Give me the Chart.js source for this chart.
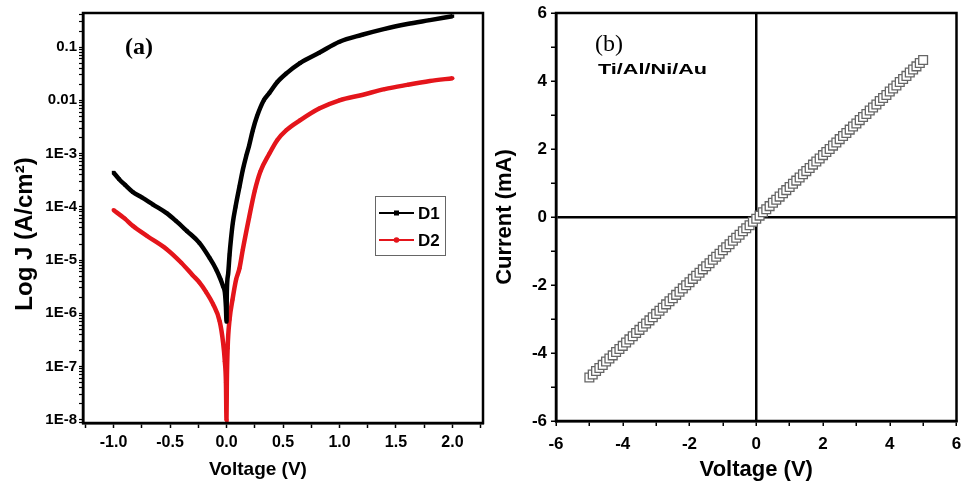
<!DOCTYPE html>
<html>
<head>
<meta charset="utf-8">
<script src="https://cdn.jsdelivr.net/npm/chart.js@4.4.1/dist/chart.umd.min.js"></script>
<style>
  html, body { margin: 0; padding: 0; background: #fff; }
  #wrap { position: relative; width: 964px; height: 489px; }
  canvas { position: absolute; left: 0; top: 0; }
</style>
</head>
<body>
<div id="wrap">
  <canvas id="chartA" width="964" height="489"></canvas>
  <canvas id="chartB" width="964" height="489"></canvas>
</div>
<script>
// panel (a): log J vs voltage
const voltageD1 = [-1.0, -0.95, -0.9, -0.83, -0.75, -0.65, -0.53, -0.45, -0.35, -0.24, -0.15, -0.09, -0.05, -0.03, -0.015, -0.005,
  0.0, 0.003, 0.015, 0.027, 0.04, 0.056, 0.08, 0.115, 0.145, 0.174, 0.2, 0.233, 0.27, 0.33, 0.38, 0.45, 0.53, 0.65, 0.82,
  1.0, 1.2, 1.4, 1.6, 1.8, 2.0];
const currentD1 = [4.4e-4, 3.3e-4, 2.6e-4, 1.9e-4, 1.5e-4, 1.1e-4, 7.6e-5, 5.5e-5, 3.5e-5, 2.1e-5, 1.1e-5, 6.6e-6, 4.2e-6, 3.2e-6, 2.5e-6, 1.3e-6,
  7e-7, 2.5e-6, 5.6e-6, 1.26e-5, 2.5e-5, 5e-5, 1e-4, 2.4e-4, 5e-4, 8.9e-4, 1.4e-3, 2.75e-3, 5e-3, 1e-2, 1.38e-2, 2.2e-2, 3.2e-2, 5e-2, 7.8e-2,
  0.126, 0.17, 0.22, 0.27, 0.32, 0.38];

const voltageD2 = [-1.0, -0.9, -0.83, -0.7, -0.53, -0.4, -0.3, -0.24, -0.18, -0.12, -0.06, -0.03, -0.015, -0.005,
  0.0, 0.003, 0.01, 0.027, 0.053, 0.085, 0.115, 0.145, 0.2, 0.25, 0.3, 0.38, 0.45, 0.53, 0.65, 0.82,
  1.0, 1.2, 1.4, 1.6, 1.8, 2.0];
const currentD2 = [8.7e-5, 6e-5, 4.4e-5, 2.8e-5, 1.6e-5, 8.9e-6, 5.2e-6, 3.8e-6, 2.5e-6, 1.5e-6, 7e-7, 2.8e-7, 1.26e-7, 5e-8,
  1e-8, 5e-8, 2.2e-7, 7.6e-7, 1.8e-6, 4.3e-6, 7e-6, 1.6e-5, 6.3e-5, 2e-4, 4.6e-4, 1e-3, 1.8e-3, 2.75e-3, 4.2e-3, 7e-3,
  0.01, 0.0126, 0.0162, 0.0195, 0.023, 0.026];

const xTickValuesA = [-1.0, -0.5, 0.0, 0.5, 1.0, 1.5, 2.0];
const xTickLabelsA = ['-1.0', '-0.5', '0.0', '0.5', '1.0', '1.5', '2.0'];
const yTickPowersA = [-8, -7, -6, -5, -4, -3, -2, -1];
const yTickLabelsA = ['1E-8', '1E-7', '1E-6', '1E-5', '1E-4', '1E-3', '0.01', '0.1'];

// panel (b): Ti/Al/Ni/Au contact I-V
const voltageB = [-5.0, -4.9, -4.8, -4.7, -4.6, -4.5, -4.4, -4.3, -4.2, -4.1, -4.0, -3.9, -3.8, -3.7, -3.6, -3.5, -3.4, -3.3, -3.2, -3.1,
  -3.0, -2.9, -2.8, -2.7, -2.6, -2.5, -2.4, -2.3, -2.2, -2.1, -2.0, -1.9, -1.8, -1.7, -1.6, -1.5, -1.4, -1.3, -1.2, -1.1,
  -1.0, -0.9, -0.8, -0.7, -0.6, -0.5, -0.4, -0.3, -0.2, -0.1, 0.0, 0.1, 0.2, 0.3, 0.4, 0.5, 0.6, 0.7, 0.8, 0.9,
  1.0, 1.1, 1.2, 1.3, 1.4, 1.5, 1.6, 1.7, 1.8, 1.9, 2.0, 2.1, 2.2, 2.3, 2.4, 2.5, 2.6, 2.7, 2.8, 2.9,
  3.0, 3.1, 3.2, 3.3, 3.4, 3.5, 3.6, 3.7, 3.8, 3.9, 4.0, 4.1, 4.2, 4.3, 4.4, 4.5, 4.6, 4.7, 4.8, 4.9, 5.0];
const currentB = [-4.72, -4.63, -4.53, -4.44, -4.35, -4.25, -4.16, -4.07, -3.97, -3.88, -3.79, -3.69, -3.60, -3.51, -3.41, -3.32, -3.23, -3.13, -3.04, -2.95,
  -2.85, -2.76, -2.67, -2.57, -2.48, -2.39, -2.29, -2.20, -2.10, -2.01, -1.92, -1.82, -1.73, -1.64, -1.54, -1.45, -1.36, -1.26, -1.17, -1.08,
  -0.98, -0.89, -0.80, -0.70, -0.61, -0.52, -0.42, -0.33, -0.24, -0.14, -0.05, 0.04, 0.14, 0.23, 0.32, 0.42, 0.51, 0.60, 0.70, 0.79,
  0.88, 0.98, 1.07, 1.16, 1.26, 1.35, 1.44, 1.54, 1.63, 1.72, 1.82, 1.91, 2.00, 2.10, 2.19, 2.29, 2.38, 2.47, 2.57, 2.66,
  2.75, 2.85, 2.94, 3.03, 3.13, 3.22, 3.31, 3.41, 3.50, 3.59, 3.69, 3.78, 3.87, 3.97, 4.06, 4.15, 4.25, 4.34, 4.43, 4.53, 4.62];

const xTickLabelsB = ['-6', '-4', '-2', '0', '2', '4', '6'];
const yTickLabelsB = ['-6', '-4', '-2', '0', '2', '4', '6'];

const SANS = '"Liberation Sans", Arial, sans-serif';
const SERIF = '"Liberation Serif", "Times New Roman", serif';
Chart.defaults.font.family = SANS;
Chart.defaults.color = '#000';

const toPoints = (xs, ys) => xs.map((x, i) => ({ x: x, y: ys[i] }));

// frame round the plot area
const framePlugin = {
  id: 'frame',
  afterDatasetsDraw(chart) {
    const { ctx, chartArea: a } = chart;
    ctx.save();
    ctx.strokeStyle = '#000';
    ctx.lineWidth = 2.5;
    ctx.strokeRect(a.left, a.top, a.right - a.left, a.bottom - a.top);
    ctx.restore();
  }
};

// legend box, panel label and axis titles for (a)
const panelAText = {
  id: 'panelAText',
  afterDraw(chart) {
    const ctx = chart.ctx;
    ctx.save();
    ctx.fillStyle = '#000';
    ctx.textAlign = 'center';
    ctx.textBaseline = 'middle';
    ctx.font = 'bold 24px ' + SERIF;
    ctx.fillText('(a)', 139, 48);

    ctx.font = 'bold 19px ' + SANS;
    ctx.fillText('Voltage (V)', 258, 470);

    ctx.save();
    ctx.translate(25, 234);
    ctx.rotate(-Math.PI / 2);
    ctx.font = 'bold 24px ' + SANS;
    ctx.fillText('Log J (A/cm²)', 0, 0);
    ctx.restore();

    // legend
    ctx.strokeStyle = '#666';
    ctx.lineWidth = 1;
    ctx.strokeRect(375.5, 196.5, 70, 59);
    chart.data.datasets.forEach((ds, i) => {
      const y = 213 + i * 27;
      ctx.strokeStyle = ds.borderColor;
      ctx.lineWidth = 2;
      ctx.beginPath();
      ctx.moveTo(379, y);
      ctx.lineTo(414, y);
      ctx.stroke();
      ctx.fillStyle = ds.borderColor;
      if (ds.pointStyle === 'rect') {
        ctx.fillRect(394, y - 2.5, 5, 5);
      } else {
        ctx.beginPath();
        ctx.arc(396.5, y, 2.8, 0, Math.PI * 2);
        ctx.fill();
      }
      ctx.fillStyle = '#000';
      ctx.textAlign = 'left';
      ctx.font = 'bold 17px ' + SANS;
      ctx.fillText(ds.label, 418, y + 1);
    });
    ctx.restore();
  }
};

const panelBText = {
  id: 'panelBText',
  afterDraw(chart) {
    const ctx = chart.ctx;
    ctx.save();
    ctx.fillStyle = '#000';
    ctx.textBaseline = 'middle';
    ctx.textAlign = 'center';
    ctx.font = '24px ' + SERIF;
    ctx.fillText('(b)', 609, 45);

    ctx.textAlign = 'left';
    ctx.font = 'bold 14px ' + SANS;
    const label = 'Ti/Al/Ni/Au';
    const w = ctx.measureText(label).width;
    ctx.translate(598, 70);
    ctx.scale(109 / w, 1);
    ctx.fillText(label, 0, 0);
    ctx.restore();
  }
};

// every log tick 1..9 x 10^n inside the range
const logMin = 8.7e-9, logMax = 0.436;
function logTicks() {
  const t = [];
  for (let e = -9; e <= 0; e++) {
    for (let m = 1; m <= 9; m++) {
      const v = m * Math.pow(10, e);
      if (v >= logMin && v <= logMax) t.push({ value: v });
    }
  }
  return t;
}

// nudge layout padding until the plot area sits where the figure has it
function pinRight(chart, target) {
  for (let k = 0; k < 3; k++) {
    const d = chart.chartArea.right - target;
    if (Math.abs(d) < 0.5) break;
    chart.options.layout.padding.right += d;
    chart.update();
  }
}

const chartA = new Chart(document.getElementById('chartA'), {
  type: 'scatter',
  data: {
    datasets: [
      {
        label: 'D1',
        data: toPoints(voltageD1, currentD1),
        showLine: true,
        borderColor: '#000',
        backgroundColor: '#000',
        borderWidth: 4.5,
        pointStyle: 'rect',
        pointRadius: 2.4,
        pointBorderWidth: 0,
        cubicInterpolationMode: 'monotone'
      },
      {
        label: 'D2',
        data: toPoints(voltageD2, currentD2),
        showLine: true,
        borderColor: '#e4151b',
        backgroundColor: '#e4151b',
        borderWidth: 4.5,
        pointStyle: 'circle',
        pointRadius: 2,
        pointBorderWidth: 0,
        cubicInterpolationMode: 'monotone'
      }
    ]
  },
  options: {
    responsive: false,
    animation: false,
    devicePixelRatio: 1,
    layout: { padding: { left: 0, top: 13, right: 481, bottom: 0 } },
    plugins: { legend: { display: false }, tooltip: { enabled: false } },
    scales: {
      x: {
        type: 'linear',
        min: -1.27,
        max: 2.27,
        ticks: {
          stepSize: 0.25,
          includeBounds: false,
          autoSkip: false,
          maxRotation: 0,
          padding: 5,
          color: '#000',
          font: { size: 16, weight: 'bold' },
          callback: (v) => {
            const i = xTickValuesA.findIndex(t => Math.abs(t - v) < 1e-6);
            return i >= 0 ? xTickLabelsA[i] : '';
          }
        },
        grid: { drawOnChartArea: false, drawTicks: true, tickLength: 5, tickColor: '#000', tickWidth: 1.5 },
        border: { display: true, color: '#000', width: 2.5 },
        afterFit(s) { s.height = 66; s.paddingLeft = 0; s.paddingRight = 0; }
      },
      y: {
        type: 'logarithmic',
        min: logMin,
        max: logMax,
        afterBuildTicks(s) { s.ticks = logTicks(); },
        ticks: {
          autoSkip: false,
          padding: 2,
          color: '#000',
          font: { size: 15, weight: 'bold' },
          callback: (v) => {
            const p = Math.log10(v);
            const i = yTickPowersA.findIndex(e => Math.abs(e - p) < 1e-6);
            return i >= 0 ? yTickLabelsA[i] : '';
          }
        },
        grid: { drawOnChartArea: false, drawTicks: true, tickLength: 4, tickColor: '#000', tickWidth: 1.2 },
        border: { display: true, color: '#000', width: 2.5 },
        afterFit(s) { s.width = 83; s.paddingTop = 0; s.paddingBottom = 0; }
      }
    }
  },
  plugins: [framePlugin, panelAText]
});
pinRight(chartA, 483);

const zeroLine = (c) => (c.tick && c.tick.value === 0 ? '#000' : 'rgba(0,0,0,0)');

const chartB = new Chart(document.getElementById('chartB'), {
  type: 'scatter',
  data: {
    datasets: [{
      label: 'Ti/Al/Ni/Au',
      data: toPoints(voltageB, currentB),
      showLine: false,
      pointStyle: 'rect',
      pointRadius: 6.2,
      pointBorderColor: '#666',
      pointBackgroundColor: '#fff',
      pointBorderWidth: 1.3
    }]
  },
  options: {
    responsive: false,
    animation: false,
    devicePixelRatio: 1,
    layout: { padding: { left: 490, top: 13, right: 4, bottom: 0 } },
    plugins: { legend: { display: false }, tooltip: { enabled: false } },
    scales: {
      x: {
        type: 'linear',
        min: -6,
        max: 6,
        ticks: {
          stepSize: 1,
          padding: 3,
          color: '#000',
          font: { size: 17, weight: 'bold', lineHeight: 1.75 },
          callback: (v) => (v % 2 === 0 ? xTickLabelsB[(v + 6) / 2] : '')
        },
        grid: { color: zeroLine, lineWidth: 2.5, drawTicks: true, tickLength: 5, tickColor: '#000', tickWidth: 1.5 },
        border: { display: true, color: '#000', width: 2.5 },
        title: { display: true, text: 'Voltage (V)', font: { size: 22, weight: 'bold' }, color: '#000', padding: { top: 0, bottom: 6 } },
        afterFit(s) { s.height = 68; s.paddingLeft = 0; s.paddingRight = 0; }
      },
      y: {
        type: 'linear',
        min: -6,
        max: 6,
        ticks: {
          stepSize: 1,
          padding: 4,
          color: '#000',
          font: { size: 17, weight: 'bold' },
          callback: (v) => (v % 2 === 0 ? yTickLabelsB[(v + 6) / 2] : '')
        },
        grid: { color: zeroLine, lineWidth: 2.5, drawTicks: true, tickLength: 5, tickColor: '#000', tickWidth: 1.5 },
        border: { display: true, color: '#000', width: 2.5 },
        title: { display: true, text: 'Current (mA)', font: { size: 22, weight: 'bold' }, color: '#000', padding: { top: 2, bottom: 0 } },
        afterFit(s) { s.width = 66; s.paddingTop = 0; s.paddingBottom = 0; }
      }
    }
  },
  plugins: [framePlugin, panelBText]
});
pinRight(chartB, 960);
</script>
</body>
</html>
